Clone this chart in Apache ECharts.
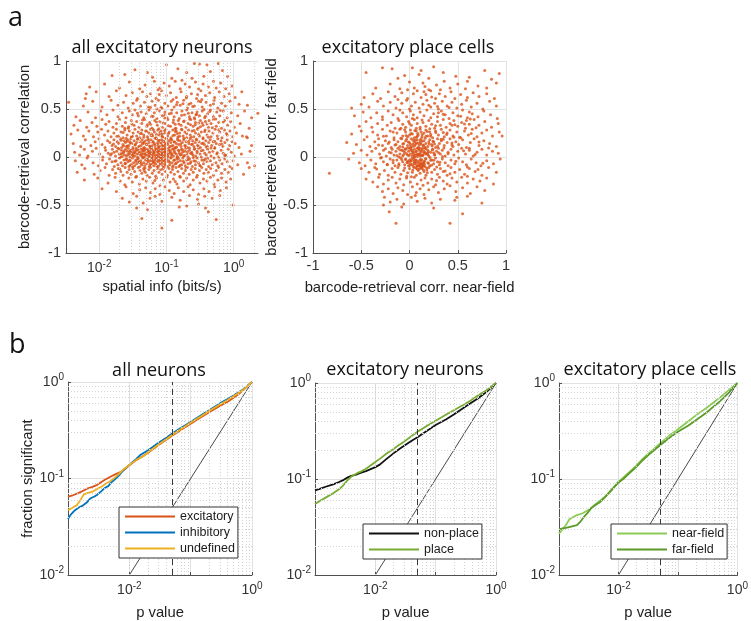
<!DOCTYPE html>
<html>
<head>
<meta charset="utf-8">
<script src="https://cdn.jsdelivr.net/npm/echarts@6/dist/echarts.min.js"></script>
<style>html,body{margin:0;padding:0;background:#fff}#chart{width:751px;height:621px}</style>
</head>
<body>
<div id="chart"></div>
<script>
// ---- panel a, left: spatial info (bits/s) vs barcode-retrieval correlation, all excitatory neurons
const excSpatialCorr = [
[0.0155,0.85],[0.024,0.86],[0.034,0.91],[0.1,0.96],[0.148,0.92],[0.26,0.975],[0.31,0.97],[0.4,0.96],[0.59,0.975],[0.81,0.84],[0.062,0.83],[0.2,0.88],[0.45,0.89],[0.68,0.9],[0.12,0.82],[0.36,0.84],[0.052,0.88],[0.24,0.82],
[0.0072,0.73],[0.012,0.76],[0.02,0.72],[0.028,0.78],[0.04,0.71],[0.048,0.75],[0.066,0.79],[0.08,0.72],[0.092,0.77],[0.11,0.74],[0.135,0.79],[0.16,0.71],[0.19,0.76],[0.22,0.73],[0.27,0.78],[0.3,0.71],[0.35,0.76],[0.42,0.73],[0.5,0.79],[0.55,0.72],[0.64,0.77],[0.76,0.71],[0.95,0.74],[0.17,0.8],[0.075,0.7],
[0.0062,0.61],[0.0064,0.66],[0.009,0.68],[0.014,0.63],[0.018,0.69],[0.025,0.64],[0.031,0.67],[0.037,0.61],[0.044,0.68],[0.051,0.63],[0.058,0.66],[0.07,0.61],[0.084,0.69],[0.1,0.64],[0.115,0.67],[0.14,0.62],[0.165,0.68],[0.2,0.63],[0.235,0.66],[0.28,0.61],[0.325,0.69],[0.38,0.64],[0.44,0.67],[0.52,0.62],[0.61,0.68],[0.72,0.63],[0.86,0.66],[1.32,0.68],[1.05,0.62],[0.078,0.65],[0.29,0.65],[0.125,0.6],
[0.0035,0.57],[0.0058,0.53],[0.008,0.58],[0.011,0.52],[0.015,0.59],[0.019,0.54],[0.023,0.57],[0.027,0.51],[0.032,0.56],[0.036,0.59],[0.041,0.53],[0.047,0.57],[0.054,0.52],[0.061,0.58],[0.068,0.54],[0.076,0.59],[0.085,0.51],[0.095,0.56],[0.105,0.53],[0.118,0.58],[0.13,0.52],[0.145,0.57],[0.16,0.54],[0.18,0.59],[0.205,0.51],[0.23,0.56],[0.26,0.53],[0.3,0.58],[0.34,0.52],[0.39,0.57],[0.45,0.54],[0.51,0.59],[0.58,0.51],[0.66,0.56],[0.75,0.53],[0.88,0.58],[1.2,0.55],[1.6,0.54],[2.29,0.455],[0.215,0.55],[0.072,0.5],[0.335,0.6],
[0.0045,0.42],[0.0068,0.47],[0.0088,0.41],[0.0105,0.48],[0.013,0.44],[0.016,0.49],[0.019,0.42],[0.022,0.46],[0.025,0.41],[0.028,0.48],[0.031,0.44],[0.034,0.49],[0.038,0.43],[0.042,0.47],[0.046,0.41],[0.05,0.45],[0.055,0.49],[0.06,0.42],[0.066,0.46],[0.072,0.4],[0.079,0.48],[0.087,0.43],[0.095,0.47],[0.102,0.41],[0.11,0.45],[0.12,0.49],[0.13,0.42],[0.142,0.46],[0.155,0.4],[0.17,0.48],[0.185,0.44],[0.2,0.49],[0.22,0.42],[0.24,0.46],[0.26,0.41],[0.285,0.47],[0.31,0.43],[0.34,0.48],[0.37,0.41],[0.41,0.45],[0.45,0.49],[0.5,0.42],[0.56,0.47],[0.62,0.43],[0.7,0.48],[0.8,0.41],[0.92,0.46],[1.15,0.43],[1.45,0.48],[1.85,0.41],[0.0925,0.44],[0.275,0.44],
[0.0042,0.33],[0.0052,0.38],[0.0065,0.31],[0.0078,0.36],[0.0092,0.32],[0.011,0.39],[0.0125,0.34],[0.014,0.37],[0.016,0.31],[0.018,0.35],[0.02,0.39],[0.022,0.32],[0.0245,0.36],[0.027,0.3],[0.03,0.38],[0.033,0.33],[0.036,0.37],[0.039,0.31],[0.043,0.35],[0.047,0.39],[0.051,0.32],[0.056,0.36],[0.061,0.3],[0.067,0.38],[0.073,0.33],[0.08,0.37],[0.088,0.31],[0.096,0.35],[0.105,0.39],[0.115,0.32],[0.126,0.36],[0.138,0.3],[0.15,0.38],[0.165,0.33],[0.18,0.37],[0.195,0.31],[0.21,0.35],[0.23,0.39],[0.25,0.32],[0.27,0.36],[0.295,0.3],[0.32,0.38],[0.35,0.33],[0.38,0.37],[0.42,0.31],[0.46,0.35],[0.5,0.39],[0.55,0.32],[0.6,0.36],[0.66,0.3],[0.73,0.38],[0.81,0.33],[0.9,0.37],[1.02,0.31],[1.25,0.35],[1.7,0.3],[0.058,0.34],[0.135,0.34],[0.43,0.38],[0.024,0.3],
[0.0038,0.24],[0.0048,0.28],[0.0058,0.22],[0.007,0.27],[0.0082,0.21],[0.0095,0.26],[0.0108,0.29],[0.012,0.23],[0.0135,0.27],[0.015,0.21],[0.0165,0.25],[0.018,0.29],[0.0195,0.22],[0.021,0.26],[0.0225,0.2],[0.024,0.28],[0.026,0.23],[0.028,0.27],[0.03,0.21],[0.032,0.25],[0.034,0.29],[0.036,0.22],[0.038,0.26],[0.04,0.2],[0.043,0.28],[0.046,0.23],[0.049,0.27],[0.052,0.21],[0.055,0.25],[0.058,0.29],[0.062,0.22],[0.066,0.26],[0.07,0.2],[0.074,0.28],[0.078,0.23],[0.083,0.27],[0.088,0.21],[0.093,0.25],[0.098,0.29],[0.104,0.22],[0.11,0.26],[0.117,0.2],[0.124,0.28],[0.132,0.23],[0.14,0.27],[0.148,0.21],[0.157,0.25],[0.167,0.29],[0.177,0.22],[0.188,0.26],[0.2,0.2],[0.213,0.28],[0.226,0.23],[0.24,0.27],[0.255,0.21],[0.27,0.25],[0.29,0.29],[0.31,0.22],[0.33,0.26],[0.35,0.2],[0.375,0.28],[0.4,0.23],[0.43,0.27],[0.46,0.21],[0.49,0.25],[0.53,0.29],[0.57,0.22],[0.62,0.26],[0.67,0.2],[0.73,0.28],[0.8,0.23],[0.88,0.27],[0.97,0.21],[1.1,0.25],[1.35,0.22],[1.6,0.2],[0.0425,0.245],[0.0855,0.24],[0.145,0.245],[0.061,0.235],
[0.0041,0.14],[0.0053,0.11],[0.0062,0.18],[0.0075,0.12],[0.0087,0.16],[0.0099,0.19],[0.011,0.13],[0.0122,0.1],[0.0133,0.17],[0.0144,0.15],[0.0155,0.12],[0.0165,0.18],[0.0175,0.11],[0.0185,0.16],[0.0195,0.14],[0.0205,0.19],[0.0215,0.1],[0.0225,0.13],[0.0235,0.17],[0.0245,0.15],[0.0255,0.11],[0.0265,0.18],[0.0275,0.12],[0.0285,0.16],[0.0295,0.19],[0.0305,0.14],[0.0315,0.1],[0.033,0.17],[0.0345,0.13],[0.036,0.15],[0.0375,0.19],[0.039,0.11],[0.0405,0.16],[0.042,0.12],[0.0435,0.18],[0.045,0.14],[0.047,0.1],[0.049,0.17],[0.051,0.13],[0.053,0.19],[0.055,0.15],[0.057,0.11],[0.059,0.18],[0.061,0.12],[0.0635,0.16],[0.066,0.14],[0.0685,0.1],[0.071,0.19],[0.0735,0.13],[0.076,0.17],[0.079,0.11],[0.082,0.15],[0.085,0.18],[0.088,0.12],[0.091,0.16],[0.094,0.1],[0.097,0.14],[0.1,0.19],[0.104,0.13],[0.108,0.17],[0.112,0.11],[0.116,0.15],[0.12,0.18],[0.125,0.12],[0.13,0.16],[0.135,0.1],[0.14,0.14],[0.146,0.19],[0.152,0.13],[0.158,0.17],[0.165,0.11],[0.172,0.15],[0.18,0.18],[0.188,0.12],[0.196,0.16],[0.205,0.1],[0.215,0.14],[0.225,0.19],[0.235,0.13],[0.245,0.17],[0.256,0.11],[0.268,0.15],[0.28,0.18],[0.293,0.12],[0.306,0.16],[0.32,0.1],[0.335,0.14],[0.35,0.19],[0.367,0.13],[0.385,0.17],[0.405,0.11],[0.425,0.15],[0.447,0.18],[0.47,0.12],[0.495,0.16],[0.52,0.1],[0.55,0.14],[0.58,0.19],[0.615,0.13],[0.65,0.17],[0.69,0.11],[0.74,0.15],[0.8,0.18],[0.87,0.12],[0.95,0.16],[1.05,0.14],[1.2,0.1],[1.55,0.21],[1.85,0.12],[0.0465,0.155],
[0.0043,0.05],[0.0051,0.02],[0.006,0.08],[0.0068,0.01],[0.0079,0.06],[0.009,0.09],[0.0101,0.03],[0.0113,0.0],[0.0124,0.07],[0.0136,0.04],[0.0147,0.02],[0.0157,0.08],[0.0166,0.05],[0.0174,0.01],[0.0182,0.06],[0.019,0.09],[0.0198,0.03],[0.0206,0.0],[0.0214,0.07],[0.0222,0.04],[0.023,0.05],[0.0238,0.02],[0.0246,0.08],[0.0254,0.01],[0.0262,0.06],[0.027,0.09],[0.0278,0.03],[0.0286,0.0],[0.0294,0.07],[0.0302,0.04],[0.031,0.02],[0.0318,0.08],[0.0326,0.05],[0.0335,0.01],[0.0344,0.06],[0.0353,0.09],[0.0362,0.03],[0.0371,0.0],[0.038,0.07],[0.039,0.04],[0.04,0.05],[0.041,0.02],[0.042,0.08],[0.043,0.01],[0.044,0.06],[0.045,0.09],[0.046,0.03],[0.047,0.0],[0.048,0.07],[0.049,0.04],[0.0505,0.02],[0.052,0.08],[0.0535,0.05],[0.055,0.01],[0.0565,0.06],[0.058,0.09],[0.0595,0.03],[0.061,0.0],[0.0625,0.07],[0.064,0.04],[0.066,0.05],[0.068,0.02],[0.07,0.08],[0.072,0.01],[0.074,0.06],[0.076,0.09],[0.078,0.03],[0.08,0.0],[0.082,0.07],[0.084,0.04],[0.0865,0.02],[0.089,0.08],[0.0915,0.05],[0.094,0.01],[0.0965,0.06],[0.099,0.09],[0.102,0.03],[0.105,0.0],[0.108,0.07],[0.111,0.04],[0.115,0.05],[0.119,0.02],[0.123,0.08],[0.127,0.01],[0.131,0.06],[0.135,0.09],[0.14,0.03],[0.145,0.0],[0.15,0.07],[0.155,0.04],[0.161,0.02],[0.167,0.08],[0.173,0.05],[0.18,0.01],[0.187,0.06],[0.194,0.09],[0.202,0.03],[0.21,0.0],[0.219,0.07],[0.228,0.04],[0.238,0.05],[0.248,0.02],[0.26,0.08],[0.272,0.01],[0.285,0.06],[0.3,0.09],[0.315,0.03],[0.33,0.0],[0.35,0.07],[0.37,0.04],[0.39,0.02],[0.41,0.08],[0.435,0.05],[0.46,0.01],[0.49,0.06],[0.52,0.09],[0.56,0.03],[0.6,0.0],[0.65,0.07],[0.7,0.04],[0.76,0.02],[0.83,0.08],[0.92,0.05],[1.02,0.01],[1.3,0.03],[1.75,0.06],[0.0335,0.045],[0.0555,0.035],[0.0745,0.055],[0.0455,0.065],
[0.0044,-0.04],[0.0055,-0.08],[0.0066,-0.01],[0.0081,-0.06],[0.0097,-0.09],[0.0112,-0.03],[0.0128,-0.07],[0.0142,-0.02],[0.0155,-0.05],[0.0167,-0.1],[0.0178,-0.04],[0.0189,-0.08],[0.02,-0.01],[0.0211,-0.06],[0.0222,-0.09],[0.0233,-0.03],[0.0244,-0.07],[0.0255,-0.02],[0.0266,-0.05],[0.0277,-0.1],[0.0288,-0.04],[0.03,-0.08],[0.0312,-0.01],[0.0324,-0.06],[0.0336,-0.09],[0.0348,-0.03],[0.036,-0.07],[0.0373,-0.02],[0.0386,-0.05],[0.04,-0.1],[0.0414,-0.04],[0.0428,-0.08],[0.0443,-0.01],[0.0458,-0.06],[0.0473,-0.09],[0.0488,-0.03],[0.0504,-0.07],[0.052,-0.02],[0.0537,-0.05],[0.0554,-0.1],[0.0572,-0.04],[0.059,-0.08],[0.0609,-0.01],[0.0628,-0.06],[0.0648,-0.09],[0.0668,-0.03],[0.0689,-0.07],[0.071,-0.02],[0.0732,-0.05],[0.0755,-0.1],[0.078,-0.04],[0.0805,-0.08],[0.083,-0.01],[0.0857,-0.06],[0.0885,-0.09],[0.0913,-0.03],[0.0942,-0.07],[0.0972,-0.02],[0.1,-0.05],[0.104,-0.1],[0.108,-0.04],[0.112,-0.08],[0.116,-0.01],[0.121,-0.06],[0.126,-0.09],[0.131,-0.03],[0.136,-0.07],[0.142,-0.02],[0.148,-0.05],[0.154,-0.1],[0.161,-0.04],[0.168,-0.08],[0.175,-0.01],[0.183,-0.06],[0.191,-0.09],[0.2,-0.03],[0.21,-0.07],[0.22,-0.02],[0.231,-0.05],[0.243,-0.1],[0.256,-0.04],[0.27,-0.08],[0.285,-0.01],[0.3,-0.06],[0.318,-0.09],[0.336,-0.03],[0.355,-0.07],[0.376,-0.02],[0.4,-0.05],[0.425,-0.1],[0.45,-0.04],[0.48,-0.08],[0.51,-0.01],[0.545,-0.06],[0.58,-0.09],[0.62,-0.03],[0.67,-0.07],[0.73,-0.02],[0.8,-0.05],[0.88,-0.1],[0.98,-0.04],[1.15,-0.08],[1.6,-0.06],[2.05,-0.09],[0.0395,-0.055],[0.0625,-0.045],[0.0845,-0.035],
[0.0047,-0.16],[0.0061,-0.12],[0.0084,-0.18],[0.0103,-0.14],[0.0122,-0.11],[0.014,-0.19],[0.0158,-0.13],[0.0175,-0.17],[0.0192,-0.12],[0.0209,-0.15],[0.0226,-0.19],[0.0243,-0.11],[0.026,-0.16],[0.0278,-0.13],[0.0297,-0.18],[0.0316,-0.12],[0.0336,-0.15],[0.0357,-0.2],[0.038,-0.11],[0.0404,-0.14],[0.043,-0.17],[0.0457,-0.12],[0.0485,-0.16],[0.0515,-0.19],[0.0547,-0.13],[0.058,-0.11],[0.0615,-0.17],[0.0652,-0.14],[0.069,-0.2],[0.073,-0.12],[0.0773,-0.16],[0.0818,-0.13],[0.0865,-0.18],[0.0915,-0.11],[0.097,-0.15],[0.103,-0.19],[0.109,-0.12],[0.116,-0.16],[0.123,-0.13],[0.131,-0.18],[0.139,-0.11],[0.148,-0.15],[0.158,-0.2],[0.168,-0.12],[0.179,-0.17],[0.191,-0.14],[0.204,-0.11],[0.218,-0.18],[0.233,-0.13],[0.25,-0.16],[0.268,-0.12],[0.288,-0.19],[0.31,-0.14],[0.335,-0.11],[0.36,-0.17],[0.39,-0.13],[0.42,-0.16],[0.455,-0.12],[0.5,-0.19],[0.55,-0.14],[0.6,-0.11],[0.66,-0.17],[0.74,-0.13],[0.83,-0.16],[0.95,-0.12],[1.4,-0.18],[1.7,-0.11],[0.0465,-0.14],
[0.006,-0.24],[0.0095,-0.22],[0.0135,-0.27],[0.0172,-0.21],[0.0205,-0.25],[0.024,-0.29],[0.0275,-0.22],[0.031,-0.26],[0.035,-0.21],[0.0395,-0.28],[0.0445,-0.23],[0.05,-0.25],[0.056,-0.21],[0.063,-0.27],[0.071,-0.22],[0.08,-0.3],[0.09,-0.24],[0.101,-0.21],[0.113,-0.26],[0.127,-0.23],[0.143,-0.28],[0.16,-0.21],[0.18,-0.25],[0.2,-0.22],[0.225,-0.29],[0.25,-0.24],[0.28,-0.21],[0.315,-0.27],[0.355,-0.23],[0.4,-0.25],[0.45,-0.21],[0.51,-0.28],[0.58,-0.24],[0.66,-0.22],[0.77,-0.26],[0.9,-0.23],[0.067,-0.245],[0.135,-0.255],
[0.011,-0.33],[0.018,-0.36],[0.025,-0.31],[0.032,-0.38],[0.04,-0.34],[0.049,-0.32],[0.058,-0.37],[0.068,-0.33],[0.08,-0.39],[0.095,-0.31],[0.11,-0.35],[0.13,-0.38],[0.15,-0.32],[0.18,-0.36],[0.21,-0.31],[0.25,-0.34],[0.3,-0.39],[0.36,-0.33],[0.43,-0.36],[0.52,-0.31],[0.63,-0.35],[0.78,-0.32],
[0.022,-0.43],[0.028,-0.47],[0.036,-0.41],[0.045,-0.48],[0.057,-0.43],[0.068,-0.41],[0.085,-0.46],[0.12,-0.42],[0.16,-0.45],[0.22,-0.4],[0.29,-0.44],[0.37,-0.41],[0.48,-0.43],[0.62,-0.4],[0.3,-0.49],[0.98,-0.5],
[0.036,-0.53],[0.043,-0.64],[0.052,-0.55],[0.085,-0.74],[0.12,-0.66],[0.155,-0.52],[0.2,-0.51],[0.38,-0.53],[0.55,-0.65],[0.42,-0.57],
// denser core of the cloud
[0.021,0.035],[0.023,0.115],[0.025,-0.025],[0.026,0.165],[0.028,0.055],[0.029,-0.085],[0.031,0.215],[0.032,0.015],[0.034,0.125],[0.035,-0.045],[0.036,0.075],[0.037,0.185],[0.038,-0.015],[0.039,0.105],[0.041,0.245],[0.042,-0.065],[0.043,0.035],[0.044,0.145],[0.045,-0.005],[0.046,0.205],
[0.047,0.085],[0.048,-0.115],[0.049,0.025],[0.05,0.135],[0.051,0.265],[0.052,-0.035],[0.053,0.065],[0.054,0.175],[0.055,0.005],[0.056,0.115],[0.057,-0.075],[0.058,0.045],[0.059,0.225],[0.06,0.095],[0.061,-0.025],[0.062,0.155],[0.063,0.015],[0.064,0.285],[0.065,0.055],[0.066,-0.055],
[0.067,0.125],[0.068,0.195],[0.069,-0.005],[0.07,0.075],[0.071,0.235],[0.072,-0.095],[0.073,0.035],[0.074,0.145],[0.075,0.005],[0.076,0.105],[0.077,-0.035],[0.078,0.175],[0.079,0.065],[0.08,0.255],[0.081,-0.065],[0.082,0.025],[0.083,0.135],[0.084,-0.015],[0.085,0.085],[0.086,0.215],
[0.087,0.045],[0.088,-0.125],[0.089,0.115],[0.09,0.005],[0.091,0.165],[0.092,-0.045],[0.093,0.075],[0.094,0.275],[0.095,0.035],[0.096,0.125],[0.097,-0.085],[0.098,0.195],[0.099,0.055],[0.101,-0.025],[0.103,0.145],[0.105,0.015],[0.107,0.245],[0.109,0.095],[0.111,-0.055],[0.113,0.065],
[0.115,0.185],[0.117,-0.005],[0.119,0.115],[0.121,0.035],[0.123,-0.105],[0.125,0.225],[0.127,0.085],[0.129,-0.035],[0.131,0.155],[0.133,0.045],[0.136,0.265],[0.139,-0.065],[0.142,0.105],[0.145,0.005],[0.148,0.175],[0.151,-0.015],[0.154,0.065],[0.157,0.215],[0.16,-0.085],[0.163,0.135],
[0.166,0.025],[0.17,0.285],[0.174,0.075],[0.178,-0.045],[0.182,0.195],[0.186,0.015],[0.19,0.115],[0.195,-0.115],[0.2,0.245],[0.205,0.055],[0.21,-0.025],[0.215,0.165],[0.22,0.095],[0.226,-0.065],[0.232,0.205],[0.238,0.035],[0.244,0.135],[0.25,-0.005],[0.257,0.275],[0.264,0.085],
[0.271,-0.045],[0.278,0.185],[0.286,0.045],[0.294,0.125],[0.3,0.235],[0.31,-0.085],[0.32,0.315],[0.33,0.065],[0.34,0.355],[0.35,0.145],[0.36,-0.035],[0.37,0.265],[0.38,0.425],[0.39,0.105],[0.4,0.345],[0.41,-0.015],[0.42,0.205],[0.44,0.475],[0.46,0.095],[0.48,0.305],
[0.5,0.555],[0.52,0.165],[0.54,0.395],[0.57,0.045],[0.6,0.285],[0.63,0.485],[0.66,0.135],[0.7,0.365],[0.74,0.015],[0.78,0.245],
[0.0152,0.035],[0.0163,0.135],[0.0171,-0.045],[0.0183,0.215],[0.0196,0.085],[0.0203,-0.125],[0.0212,0.175],[0.0219,0.005],[0.0227,0.255],[0.0236,0.065],[0.0243,-0.065],[0.0251,0.195],[0.0259,0.115],[0.0267,0.025],[0.0273,0.315],[0.0281,-0.035],[0.0289,0.145],[0.0297,0.065],[0.0306,0.345],[0.0314,-0.105],
[0.052,0.335],[0.063,0.425],[0.071,0.365],[0.083,0.515],[0.094,0.405],[0.107,0.325],[0.118,0.455],[0.127,0.385],[0.141,0.545],[0.153,0.345],[0.168,0.435],[0.183,0.375],[0.197,0.615],[0.212,0.455],[0.228,0.335],[0.246,0.525],[0.263,0.395],[0.281,0.445],[0.302,0.355],[0.323,0.575],
[0.044,0.385],[0.037,0.455],[0.058,0.515],[0.077,0.295],[0.089,0.355],[0.134,0.295],[0.176,0.555],[0.221,0.395],[0.268,0.335],[0.362,0.495]
];

// ---- panel a, right: near-field vs far-field barcode-retrieval correlation, excitatory place cells
const placeNearFar = [
[-0.45,0.88],[-0.28,0.93],[-0.18,0.92],[0.03,0.93],[0.25,0.94],[0.93,0.87],[-0.05,0.85],[0.1,0.86],[0.2,0.82],[0.35,0.88],[0.48,0.84],[0.62,0.83],[0.78,0.9],[0.12,0.9],[-0.12,0.82],[0.85,0.81],
[-0.35,0.72],[-0.2,0.76],[-0.1,0.71],[0.0,0.78],[0.05,0.72],[0.14,0.77],[0.2,0.7],[0.28,0.75],[0.36,0.79],[0.42,0.72],[0.5,0.76],[0.58,0.71],[0.6,0.79],[0.71,0.74],[0.8,0.72],[0.9,0.77],[-0.02,0.7],[0.32,0.7],
[-0.47,0.62],[-0.38,0.66],[-0.3,0.61],[-0.22,0.68],[-0.15,0.63],[-0.08,0.67],[-0.02,0.61],[0.04,0.66],[0.08,0.69],[0.12,0.62],[0.17,0.65],[0.22,0.69],[0.27,0.61],[0.31,0.66],[0.37,0.63],[0.43,0.68],[0.47,0.61],[0.53,0.65],[0.6,0.62],[0.66,0.67],[0.72,0.63],[0.8,0.66],[0.88,0.61],[0.15,0.68],[-0.12,0.6],
[-0.6,0.51],[-0.5,0.55],[-0.42,0.52],[-0.33,0.58],[-0.27,0.53],[-0.2,0.57],[-0.14,0.51],[-0.08,0.56],[-0.03,0.59],[0.02,0.53],[0.06,0.57],[0.1,0.51],[0.14,0.55],[0.18,0.59],[0.22,0.52],[0.26,0.56],[0.3,0.5],[0.34,0.58],[0.39,0.53],[0.44,0.57],[0.49,0.51],[0.54,0.55],[0.59,0.59],[0.64,0.52],[0.7,0.56],[0.76,0.5],[0.83,0.58],[0.9,0.53],[0.0,0.5],[0.2,0.54],
[-0.57,0.43],[-0.48,0.47],[-0.4,0.41],[-0.34,0.46],[-0.28,0.42],[-0.22,0.48],[-0.17,0.44],[-0.12,0.4],[-0.07,0.46],[-0.03,0.42],[0.01,0.48],[0.04,0.44],[0.08,0.41],[0.11,0.47],[0.15,0.43],[0.18,0.49],[0.22,0.41],[0.25,0.45],[0.29,0.42],[0.33,0.48],[0.37,0.44],[0.41,0.4],[0.45,0.46],[0.5,0.43],[0.55,0.49],[0.6,0.41],[0.65,0.45],[0.71,0.42],[0.77,0.48],[0.84,0.44],[0.91,0.4],[0.03,0.4],[0.3,0.46],[-0.1,0.49],[0.62,0.47],
[-0.52,0.32],[-0.45,0.37],[-0.39,0.31],[-0.33,0.35],[-0.28,0.39],[-0.23,0.33],[-0.19,0.36],[-0.15,0.3],[-0.11,0.38],[-0.07,0.34],[-0.04,0.31],[-0.01,0.37],[0.02,0.33],[0.05,0.39],[0.08,0.35],[0.11,0.31],[0.14,0.36],[0.17,0.32],[0.2,0.38],[0.23,0.34],[0.26,0.3],[0.29,0.37],[0.32,0.33],[0.35,0.39],[0.38,0.31],[0.42,0.35],[0.46,0.38],[0.5,0.32],[0.54,0.36],[0.58,0.3],[0.62,0.34],[0.67,0.39],[0.72,0.33],[0.78,0.37],[0.85,0.31],[0.92,0.35],[0.0,0.35],[0.13,0.385],[0.27,0.325],[-0.09,0.3],[0.44,0.33],[0.07,0.3],[0.59,0.38],
[-0.6,0.24],[-0.5,0.27],[-0.44,0.21],[-0.38,0.26],[-0.33,0.23],[-0.28,0.29],[-0.24,0.22],[-0.2,0.27],[-0.16,0.2],[-0.13,0.25],[-0.1,0.29],[-0.07,0.22],[-0.04,0.26],[-0.02,0.21],[0.01,0.28],[0.03,0.24],[0.05,0.2],[0.07,0.27],[0.09,0.23],[0.11,0.29],[0.13,0.21],[0.15,0.25],[0.17,0.28],[0.19,0.22],[0.21,0.26],[0.24,0.2],[0.27,0.27],[0.3,0.23],[0.33,0.29],[0.36,0.21],[0.39,0.25],[0.42,0.28],[0.45,0.22],[0.49,0.26],[0.53,0.2],[0.57,0.27],[0.61,0.23],[0.65,0.29],[0.7,0.21],[0.75,0.25],[0.8,0.28],[0.86,0.22],[0.93,0.26],[0.0,0.23],[0.12,0.26],[0.22,0.235],[-0.05,0.285],[0.35,0.255],[0.46,0.205],[0.08,0.215],[-0.17,0.26],
[-0.65,0.15],[-0.55,0.13],[-0.47,0.18],[-0.41,0.11],[-0.36,0.16],[-0.32,0.19],[-0.28,0.12],[-0.25,0.17],[-0.22,0.14],[-0.19,0.1],[-0.16,0.18],[-0.14,0.13],[-0.12,0.16],[-0.1,0.11],[-0.08,0.19],[-0.06,0.14],[-0.04,0.17],[-0.02,0.12],[0.0,0.15],[0.02,0.19],[0.03,0.11],[0.05,0.16],[0.06,0.13],[0.08,0.18],[0.09,0.1],[0.11,0.15],[0.12,0.19],[0.14,0.12],[0.15,0.17],[0.17,0.14],[0.19,0.11],[0.21,0.18],[0.23,0.13],[0.25,0.16],[0.27,0.1],[0.29,0.19],[0.31,0.14],[0.33,0.17],[0.36,0.12],[0.39,0.15],[0.42,0.19],[0.45,0.11],[0.48,0.16],[0.51,0.13],[0.55,0.18],[0.59,0.1],[0.63,0.15],[0.67,0.19],[0.72,0.12],[0.77,0.17],[0.83,0.14],[0.9,0.11],[0.96,0.22],[0.01,0.13],[0.1,0.125],[-0.03,0.185],[0.2,0.155],[0.07,0.145],[0.16,0.105],[-0.07,0.105],[0.26,0.135],[0.35,0.185],[0.44,0.145],[0.13,0.165],
[-0.58,0.04],[-0.5,0.07],[-0.44,0.02],[-0.39,0.06],[-0.35,0.09],[-0.31,0.03],[-0.27,0.07],[-0.24,0.01],[-0.21,0.05],[-0.18,0.08],[-0.16,0.02],[-0.14,0.06],[-0.12,0.09],[-0.1,0.03],[-0.08,0.07],[-0.07,0.01],[-0.05,0.05],[-0.04,0.08],[-0.02,0.02],[-0.01,0.06],[0.0,0.09],[0.01,0.03],[0.02,0.07],[0.03,0.01],[0.04,0.05],[0.05,0.08],[0.06,0.02],[0.07,0.06],[0.08,0.09],[0.09,0.03],[0.1,0.07],[0.11,0.01],[0.12,0.05],[0.13,0.08],[0.14,0.02],[0.15,0.06],[0.16,0.09],[0.17,0.03],[0.19,0.07],[0.2,0.01],[0.22,0.05],[0.24,0.08],[0.26,0.02],[0.28,0.06],[0.3,0.09],[0.32,0.03],[0.34,0.07],[0.37,0.01],[0.4,0.05],[0.43,0.08],[0.46,0.02],[0.5,0.06],[0.54,0.09],[0.58,0.03],[0.62,0.07],[0.62,0.09],[0.66,0.01],[0.7,0.05],[0.75,0.08],[0.8,0.02],[0.86,0.06],[0.92,0.04],[-0.03,0.035],[0.035,0.045],[0.075,0.025],[0.105,0.095],[-0.065,0.065],[0.185,0.04],[0.015,0.085],[0.125,0.015],[0.055,0.0],[-0.11,0.0],[0.25,0.045],
[-0.63,-0.02],[-0.52,-0.06],[-0.46,-0.09],[-0.4,-0.03],[-0.35,-0.07],[-0.3,-0.01],[-0.27,-0.05],[-0.23,-0.08],[-0.2,-0.02],[-0.17,-0.06],[-0.15,-0.09],[-0.13,-0.03],[-0.11,-0.07],[-0.09,-0.01],[-0.07,-0.05],[-0.05,-0.08],[-0.04,-0.02],[-0.02,-0.06],[-0.01,-0.09],[0.0,-0.03],[0.01,-0.07],[0.02,-0.04],[0.03,-0.08],[0.04,-0.1],[0.05,-0.05],[0.06,-0.07],[0.07,-0.03],[0.08,-0.09],[0.09,-0.06],[0.1,-0.08],[0.11,-0.1],[0.12,-0.04],[0.13,-0.07],[0.14,-0.09],[0.15,-0.05],[0.16,-0.1],[0.17,-0.02],[0.19,-0.06],[0.21,-0.09],[0.23,-0.03],[0.25,-0.07],[0.27,-0.01],[0.29,-0.05],[0.31,-0.08],[0.34,-0.02],[0.37,-0.06],[0.4,-0.09],[0.43,-0.03],[0.47,-0.07],[0.51,-0.01],[0.55,-0.05],[0.59,-0.08],[0.64,-0.02],[0.69,-0.06],[0.74,-0.09],[0.8,-0.04],[0.87,-0.07],[0.94,-0.02],[0.115,-0.065],[0.135,-0.085],[0.095,-0.095],[0.155,-0.075],[-0.015,-0.045],[0.065,-0.055],[0.045,-0.025],[0.125,-0.105],[0.145,-0.06],
[-0.5,-0.12],[-0.42,-0.16],[-0.36,-0.11],[-0.31,-0.18],[-0.26,-0.14],[-0.22,-0.19],[-0.18,-0.12],[-0.15,-0.16],[-0.12,-0.11],[-0.09,-0.18],[-0.06,-0.14],[-0.03,-0.2],[0.0,-0.12],[0.03,-0.16],[0.05,-0.11],[0.07,-0.19],[0.09,-0.14],[0.11,-0.17],[0.13,-0.12],[0.15,-0.15],[0.17,-0.19],[0.2,-0.11],[0.23,-0.16],[0.26,-0.13],[0.29,-0.18],[0.32,-0.12],[0.35,-0.15],[0.39,-0.19],[0.43,-0.11],[0.47,-0.16],[0.52,-0.13],[0.57,-0.18],[0.62,-0.12],[0.68,-0.15],[0.75,-0.19],[0.82,-0.11],[0.9,-0.16],[-0.83,-0.17],[0.12,-0.115],[0.08,-0.125],[-0.02,-0.165],[0.18,-0.135],[0.42,-0.175],[0.6,-0.2],[0.71,-0.13],
[-0.45,-0.23],[-0.38,-0.26],[-0.32,-0.21],[-0.27,-0.28],[-0.22,-0.24],[-0.18,-0.21],[-0.14,-0.27],[-0.1,-0.23],[-0.06,-0.29],[-0.03,-0.22],[0.01,-0.26],[0.05,-0.21],[0.08,-0.28],[0.12,-0.24],[0.16,-0.22],[0.19,-0.27],[0.23,-0.23],[0.27,-0.29],[0.31,-0.21],[0.35,-0.25],[0.39,-0.28],[0.44,-0.22],[0.49,-0.26],[0.54,-0.21],[0.6,-0.27],[0.66,-0.23],[0.73,-0.25],[0.8,-0.22],[0.87,-0.28],[0.02,-0.205],[0.14,-0.295],[0.28,-0.245],
[-0.33,-0.31],[-0.28,-0.36],[-0.22,-0.33],[-0.17,-0.38],[-0.12,-0.32],[-0.07,-0.35],[-0.02,-0.39],[0.03,-0.31],[0.07,-0.37],[0.11,-0.33],[0.15,-0.39],[0.2,-0.34],[0.25,-0.31],[0.3,-0.37],[0.36,-0.33],[0.42,-0.3],[0.48,-0.36],[0.55,-0.32],[0.63,-0.38],[0.7,-0.31],[0.78,-0.35],[0.06,-0.4],
[-0.26,-0.42],[-0.2,-0.47],[-0.13,-0.44],[-0.06,-0.49],[0.02,-0.42],[0.08,-0.46],[0.16,-0.43],[0.23,-0.48],[0.32,-0.44],[0.47,-0.45],[0.49,-0.42],[0.6,-0.41],
[-0.21,-0.57],[-0.14,-0.69],[0.42,-0.69],[0.55,-0.59],[0.75,-0.48],[-0.08,-0.52],[0.25,-0.53],[-0.27,-0.5],
// denser core of the cloud
[-0.19,0.045],[-0.17,-0.035],[-0.15,0.125],[-0.13,0.015],[-0.11,-0.085],[-0.1,0.075],[-0.09,0.195],[-0.08,-0.025],[-0.07,0.135],[-0.06,0.025],[-0.05,-0.115],[-0.045,0.085],[-0.035,0.225],[-0.025,-0.055],[-0.015,0.155],[-0.005,0.015],[0.005,-0.085],[0.012,0.105],[0.018,0.245],[0.024,-0.015],
[0.028,0.065],[0.034,-0.135],[0.038,0.175],[0.042,0.025],[0.048,-0.065],[0.052,0.115],[0.056,0.275],[0.062,-0.035],[0.066,0.055],[0.072,0.205],[0.076,-0.095],[0.082,0.005],[0.086,0.145],[0.092,-0.045],[0.096,0.085],[0.102,-0.125],[0.106,0.035],[0.112,0.175],[0.116,-0.075],[0.122,0.065],
[0.126,-0.025],[0.132,0.235],[0.136,0.015],[0.142,-0.095],[0.146,0.125],[0.152,0.045],[0.156,-0.045],[0.162,0.195],[0.166,-0.015],[0.172,0.085],[0.178,-0.115],[0.184,0.265],[0.19,0.025],[0.196,-0.065],[0.204,0.135],[0.212,-0.005],[0.22,0.215],[0.228,-0.085],[0.236,0.075],[0.244,0.165],
[0.252,-0.035],[0.262,0.025],[0.272,0.255],[0.282,-0.105],[0.292,0.115],[0.302,0.045],[0.315,-0.055],[0.328,0.185],[0.342,0.005],[0.356,0.095],[0.37,-0.145],[0.385,0.235],[0.4,0.035],[-0.21,0.155],[-0.23,-0.075],[-0.25,0.085],[-0.27,0.215],[-0.29,-0.005],[-0.32,0.125],[-0.34,-0.125],
[0.01,-0.045],[0.035,0.135],[0.06,0.175],[0.085,0.245],[0.11,-0.025],[0.135,0.095],[0.16,0.045],[0.185,-0.165],[0.21,0.295],[0.235,0.115],[0.045,-0.005],[0.07,-0.115],[0.095,0.025],[0.12,0.135],[0.145,-0.135],[0.17,0.215],[0.195,0.055],[0.22,-0.035],[-0.02,0.095],[-0.04,-0.025],
[0.44,0.125],[0.48,-0.045],[0.52,0.205],[0.56,0.065],[0.6,-0.105],[0.64,0.245],[0.68,0.025],[0.72,0.155],[0.76,-0.065],[0.82,0.095],[0.47,0.335],[0.53,0.425],[0.41,0.515],[0.57,0.345],[0.63,0.395],[0.69,0.305],[0.35,0.445],[0.29,0.525],[0.23,0.625],[0.16,0.735]
];

// ---- panel b: fraction significant vs p value  ([p, fraction])
const allExcitatory = [[0.001,0.065],[0.0012,0.067],[0.0015,0.071],[0.0018,0.075],[0.002,0.078],[0.0025,0.082],[0.003,0.086],[0.0035,0.092],[0.004,0.097],[0.005,0.105],[0.006,0.111],[0.007,0.116],[0.008,0.121],[0.01,0.137],[0.013,0.155],[0.017,0.172],[0.02,0.184],[0.03,0.222],[0.04,0.252],[0.05,0.278],[0.07,0.32],[0.1,0.37],[0.15,0.435],[0.2,0.485],[0.3,0.565],[0.4,0.625],[0.5,0.685],[0.6,0.745],[0.8,0.875],[1,1]];
const allInhibitory = [[0.001,0.038],[0.0011,0.042],[0.0013,0.047],[0.0015,0.05],[0.0017,0.052],[0.002,0.056],[0.0023,0.062],[0.0027,0.065],[0.003,0.068],[0.0035,0.074],[0.004,0.08],[0.0045,0.083],[0.005,0.09],[0.006,0.1],[0.007,0.11],[0.008,0.122],[0.01,0.138],[0.013,0.16],[0.015,0.175],[0.02,0.195],[0.03,0.235],[0.04,0.265],[0.05,0.292],[0.07,0.335],[0.1,0.385],[0.15,0.455],[0.2,0.51],[0.3,0.6],[0.4,0.665],[0.5,0.725],[0.7,0.83],[1,1]];
const allUndefined = [[0.001,0.047],[0.0012,0.05],[0.0014,0.053],[0.0016,0.06],[0.0018,0.068],[0.002,0.07],[0.0025,0.073],[0.003,0.078],[0.0035,0.082],[0.004,0.087],[0.005,0.095],[0.006,0.104],[0.007,0.114],[0.008,0.124],[0.01,0.138],[0.013,0.156],[0.017,0.17],[0.02,0.186],[0.03,0.225],[0.04,0.255],[0.05,0.282],[0.07,0.325],[0.1,0.378],[0.15,0.445],[0.2,0.5],[0.3,0.585],[0.4,0.65],[0.5,0.71],[0.7,0.82],[1,1]];
const excNonPlace = [[0.001,0.076],[0.0012,0.079],[0.0015,0.083],[0.002,0.088],[0.0025,0.093],[0.003,0.098],[0.0035,0.104],[0.004,0.108],[0.005,0.112],[0.006,0.117],[0.007,0.121],[0.008,0.125],[0.01,0.133],[0.012,0.142],[0.015,0.16],[0.02,0.185],[0.025,0.205],[0.03,0.222],[0.04,0.25],[0.05,0.272],[0.07,0.315],[0.1,0.365],[0.15,0.42],[0.2,0.47],[0.3,0.56],[0.4,0.63],[0.5,0.69],[0.7,0.81],[1,1]];
const excPlace = [[0.001,0.055],[0.0012,0.059],[0.0015,0.064],[0.002,0.071],[0.0025,0.078],[0.003,0.087],[0.0035,0.098],[0.004,0.106],[0.005,0.115],[0.006,0.121],[0.007,0.128],[0.008,0.136],[0.01,0.15],[0.012,0.163],[0.015,0.182],[0.02,0.205],[0.025,0.228],[0.03,0.245],[0.04,0.28],[0.05,0.31],[0.07,0.355],[0.1,0.405],[0.15,0.47],[0.2,0.52],[0.3,0.6],[0.4,0.67],[0.5,0.74],[0.7,0.84],[1,1]];
const placeNearField = [[0.001,0.027],[0.0011,0.029],[0.0013,0.033],[0.0015,0.038],[0.0017,0.04],[0.002,0.042],[0.0025,0.044],[0.003,0.047],[0.0035,0.05],[0.004,0.054],[0.005,0.06],[0.006,0.066],[0.007,0.073],[0.008,0.08],[0.01,0.094],[0.012,0.103],[0.015,0.117],[0.02,0.138],[0.025,0.16],[0.03,0.178],[0.04,0.207],[0.05,0.235],[0.07,0.28],[0.1,0.33],[0.15,0.4],[0.2,0.46],[0.3,0.55],[0.4,0.63],[0.5,0.7],[0.7,0.83],[1,1]];
const placeFarField = [[0.001,0.03],[0.0013,0.031],[0.0016,0.032],[0.002,0.033],[0.0023,0.036],[0.0026,0.04],[0.003,0.044],[0.0035,0.05],[0.004,0.053],[0.005,0.058],[0.006,0.065],[0.007,0.072],[0.008,0.079],[0.01,0.092],[0.012,0.1],[0.015,0.114],[0.02,0.134],[0.025,0.155],[0.03,0.172],[0.04,0.2],[0.05,0.225],[0.07,0.265],[0.1,0.31],[0.15,0.36],[0.2,0.41],[0.3,0.49],[0.4,0.57],[0.5,0.64],[0.7,0.78],[1,1]];
const identityLine = [[0.01,0.01],[1,1]];
const alphaLevel = 0.05;

// ---- styling
const FONT = '"Liberation Sans", Arial, sans-serif';
const TFONT = '"Open Sans", "Noto Sans", sans-serif';
const AXIS_COLOR = '#505050';
const LABEL_COLOR = '#333';
const MAJOR = { color: '#e2e2e2', width: 1, type: 'solid' };
const MINOR = { color: '#d2d2d2', width: 1, type: [1, 2] };

const chart = echarts.init(document.getElementById('chart'), null, { renderer: 'canvas' });

// decade multiples 2..9 between two values (minor grid of a log axis)
function minorLogValues(lo, hi) {
  const out = [];
  for (let e = Math.floor(Math.log10(lo)); e <= Math.ceil(Math.log10(hi)); e++) {
    for (let k = 2; k <= 9; k++) {
      const v = k * Math.pow(10, e);
      if (v > lo * 1.0001 && v < hi * 0.9999) out.push(v);
    }
  }
  return out;
}

// "10^n" tick label, only for the listed exponents
function powLabel(exps) {
  return function (v) {
    const l = Math.log10(v);
    const e = Math.round(l);
    if (Math.abs(l - e) > 1e-6 || exps.indexOf(e) < 0) return '';
    return '{b|10}{s|' + e + '}';
  };
}
const powRich = {
  b: { fontSize: 14, fontFamily: FONT, color: LABEL_COLOR },
  s: { fontSize: 10, fontFamily: FONT, color: LABEL_COLOR, padding: [0, 0, 9, 0] }
};

function axisBase(extra) {
  return Object.assign({
    axisLine: { show: true, onZero: false, lineStyle: { color: AXIS_COLOR, width: 1 } },
    axisTick: { show: true, inside: true, length: 3, lineStyle: { color: AXIS_COLOR } },
    axisLabel: { color: LABEL_COLOR, fontSize: 14.5, fontFamily: FONT, margin: 5 },
    splitLine: { show: true, lineStyle: MAJOR },
    nameLocation: 'middle',
    nameTextStyle: { color: '#222', fontSize: 14.8, fontFamily: FONT }
  }, extra);
}

// grid lines drawn as mark lines through the axes' own scales
function gridLineSeries(gi, xsMinor, ysMinor, xsMajor, ysMajor, extra) {
  const d = [];
  (xsMajor || []).forEach(v => d.push({ xAxis: v, lineStyle: MAJOR }));
  (ysMajor || []).forEach(v => d.push({ yAxis: v, lineStyle: MAJOR }));
  (xsMinor || []).forEach(v => d.push({ xAxis: v, lineStyle: MINOR }));
  (ysMinor || []).forEach(v => d.push({ yAxis: v, lineStyle: MINOR }));
  (extra || []).forEach(x => d.push(x));
  return {
    type: 'line', xAxisIndex: gi, yAxisIndex: gi, data: [], silent: true, z: 1, animation: false,
    markLine: { silent: true, symbol: ['none', 'none'], label: { show: false }, animation: false,
      emphasis: { disabled: true }, data: d }
  };
}

function curve(name, gi, data, color) {
  return { name: name, type: 'line', xAxisIndex: gi, yAxisIndex: gi, data: data, symbol: 'none', showSymbol: false,
    lineStyle: { color: color, width: 1.8 }, itemStyle: { color: color }, z: 4, animation: false, silent: true };
}

const grids = [
  { left: 66, top: 61, width: 192, height: 192 },
  { left: 313, top: 61, width: 193, height: 192 },
  { left: 68, top: 382, width: 184, height: 193 },
  { left: 315, top: 383, width: 181, height: 192 },
  { left: 559, top: 383, width: 182, height: 192 }
];

const pLogAxis = gi => axisBase({ gridIndex: gi, type: 'log', min: 0.001, max: 1, name: 'p value', nameGap: 30,
  axisLabel: { formatter: powLabel([-2, 0]), rich: powRich, margin: 6 } });
const fLogAxis = (gi, withName) => axisBase({ gridIndex: gi, type: 'log', min: 0.01, max: 1,
  name: withName ? 'fraction significant' : '', nameGap: 30,
  axisLabel: { formatter: powLabel([-2, -1, 0]), rich: powRich, margin: 4 } });

const xAxes = [
  axisBase({ gridIndex: 0, type: 'log', min: 0.0032, max: 2.3, name: 'spatial info (bits/s)', nameGap: 26,
    splitLine: { show: false }, axisTick: { show: false },
    axisLabel: { formatter: powLabel([-2, -1, 0]), rich: powRich, margin: 6 } }),
  axisBase({ gridIndex: 1, type: 'value', min: -1, max: 1, interval: 0.5, name: 'barcode-retrieval corr. near-field', nameGap: 27 }),
  pLogAxis(2), pLogAxis(3), pLogAxis(4)
];
const yAxes = [
  axisBase({ gridIndex: 0, type: 'value', min: -1, max: 1, interval: 0.5, name: 'barcode-retrieval correlation', nameGap: 27 }),
  axisBase({ gridIndex: 1, type: 'value', min: -1, max: 1, interval: 0.5, name: 'barcode-retrieval corr. far-field', nameGap: 26 }),
  fLogAxis(2, true), fLogAxis(3, false), fLogAxis(4, false)
];

const alphaMark = { xAxis: alphaLevel, lineStyle: { color: '#3a3a3a', width: 1, type: [6, 4] } };
const pMinor = minorLogValues(0.001, 1);
const fMinor = minorLogValues(0.01, 1);

const series = [
  gridLineSeries(0, minorLogValues(0.0032, 2.3), [], [0.01, 0.1, 1], []),
  { type: 'scatter', xAxisIndex: 0, yAxisIndex: 0, data: excSpatialCorr, symbol: 'circle', symbolSize: 3,
    itemStyle: { color: '#D95319' }, z: 3, animation: false, silent: true, large: false },
  { type: 'scatter', xAxisIndex: 1, yAxisIndex: 1, data: placeNearFar, symbol: 'circle', symbolSize: 3,
    itemStyle: { color: '#D95319' }, z: 3, animation: false, silent: true, large: false }
];
[2, 3, 4].forEach(gi => {
  series.push(gridLineSeries(gi, pMinor, fMinor, [], [], [alphaMark]));
  series.push({ type: 'line', xAxisIndex: gi, yAxisIndex: gi, data: identityLine, symbol: 'none',
    lineStyle: { color: '#1a1a1a', width: 0.8 }, z: 2, animation: false, silent: true });
});
series.push(curve('excitatory', 2, allExcitatory, '#D95319'));
series.push(curve('inhibitory', 2, allInhibitory, '#0072BD'));
series.push(curve('undefined', 2, allUndefined, '#EDB120'));
series.push(curve('non-place', 3, excNonPlace, '#111111'));
series.push(curve('place', 3, excPlace, '#77AC30'));
series.push(curve('near-field', 4, placeNearField, '#8CCB56'));
series.push(curve('far-field', 4, placeFarField, '#5B9A26'));

function legendBox(names, left, top) {
  return { data: names, orient: 'vertical', left: left, top: top, itemWidth: 50, itemHeight: 12, z: 20,
    itemGap: 3, itemStyle: { opacity: 0 }, padding: [3, 3, 3, 5], borderColor: '#333', borderWidth: 1, backgroundColor: '#fff',
    selectedMode: false, textStyle: { color: '#1a1a1a', fontSize: 12.5, fontFamily: FONT } };
}

const titleStyle = { fontFamily: TFONT, fontSize: 18, fontWeight: 'normal', color: '#111' };
const letterStyle = { fontFamily: TFONT, fontSize: 27, fontWeight: 'normal', color: '#111' };

chart.setOption({
  backgroundColor: '#fff',
  animation: false,
  title: [
    { text: 'a', left: 8, top: 5, padding: 0, textStyle: letterStyle },
    { text: 'all excitatory neurons', left: 162, top: 39, padding: 0, textAlign: 'center', textStyle: titleStyle },
    { text: 'excitatory place cells', left: 408, top: 39, padding: 0, textAlign: 'center', textStyle: titleStyle },
    { text: 'b', left: 9, top: 332, padding: 0, textStyle: letterStyle },
    { text: 'all neurons', left: 159, top: 362, padding: 0, textAlign: 'center', textStyle: titleStyle },
    { text: 'excitatory neurons', left: 405, top: 361, padding: 0, textAlign: 'center', textStyle: titleStyle },
    { text: 'excitatory place cells', left: 650, top: 361, padding: 0, textAlign: 'center', textStyle: titleStyle }
  ],
  legend: [
    legendBox(['excitatory', 'inhibitory', 'undefined'], 119, 507),
    legendBox(['non-place', 'place'], 363, 524),
    legendBox(['near-field', 'far-field'], 611, 524)
  ],
  grid: grids,
  xAxis: xAxes,
  yAxis: yAxes,
  series: series
});
</script>
</body>
</html>
